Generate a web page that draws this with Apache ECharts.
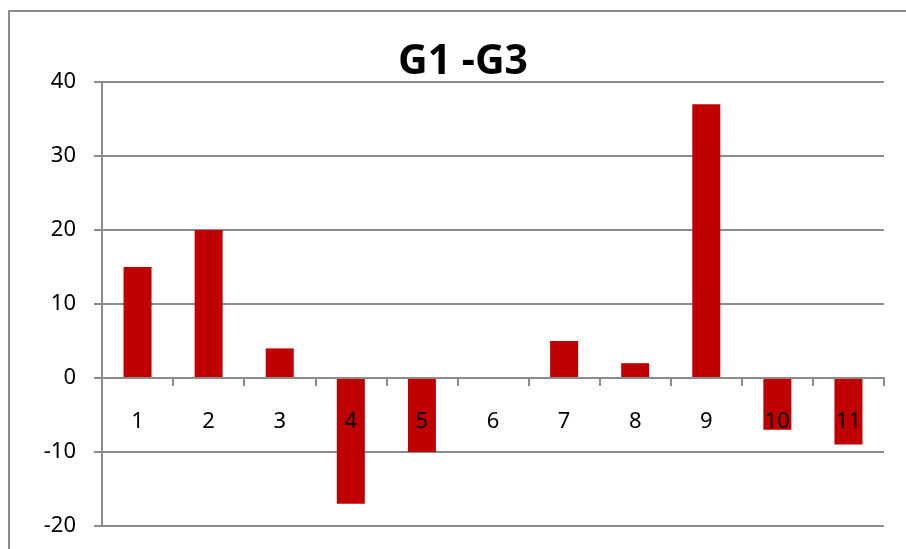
<!DOCTYPE html>
<html>
<head>
<meta charset="utf-8">
<script src="https://cdn.jsdelivr.net/npm/echarts@6/dist/echarts.min.js"></script>
<style>
  html, body { margin: 0; padding: 0; background: #fff; }
  #chart { width: 906px; height: 549px; }
</style>
</head>
<body>
<div id="chart"></div>
<script>
// Chart data
const categories = ['1', '2', '3', '4', '5', '6', '7', '8', '9', '10', '11'];
const diffValues = [15, 20, 4, -17, -10, 0, 5, 2, 37, -7, -9];
const yTicks = { min: -20, max: 40, interval: 10 };
const chartTitle = 'G1 -G3';

const gray = '#8c8c8c';
const font = '"Noto Sans", "Open Sans", sans-serif';

const chart = echarts.init(document.getElementById('chart'), null, { renderer: 'canvas' });
chart.setOption({
  animation: false,
  backgroundColor: '#fff',
  title: {
    text: chartTitle,
    left: 458,
    top: 37,
    textAlign: 'center',
    textStyle: { fontFamily: font, fontWeight: 'bold', fontSize: 41, color: '#000' }
  },
  graphic: [{
    type: 'rect',
    shape: { x: 9, y: 11, width: 940, height: 600 },
    style: { fill: 'none', stroke: gray, lineWidth: 2 },
    silent: true
  }],
  grid: { left: 102, right: 22, top: 82, bottom: 23, containLabel: false, outerBoundsMode: 'none' },
  xAxis: {
    type: 'category',
    data: categories,
    z: 10,
    axisLine: { onZero: true, lineStyle: { color: gray, width: 2 } },
    axisTick: { show: true, alignWithLabel: false, length: 8, lineStyle: { color: gray, width: 2 } },
    // category labels sit just below the zero line, above the plot bottom
    axisLabel: { margin: -115, fontFamily: font, fontSize: 22, color: '#000' },
    splitLine: { show: false }
  },
  yAxis: {
    type: 'value',
    min: yTicks.min,
    max: yTicks.max,
    interval: yTicks.interval,
    axisLine: { show: true, lineStyle: { color: gray, width: 2 } },
    axisTick: { show: true, length: 8, lineStyle: { color: gray, width: 2 } },
    axisLabel: { margin: 26, fontFamily: font, fontSize: 22, color: '#000' },
    splitLine: { show: true, lineStyle: { color: gray, width: 2 } }
  },
  series: [{
    type: 'bar',
    data: diffValues,
    barWidth: 28,
    itemStyle: { color: '#c00000' }
  }]
});
</script>
</body>
</html>
